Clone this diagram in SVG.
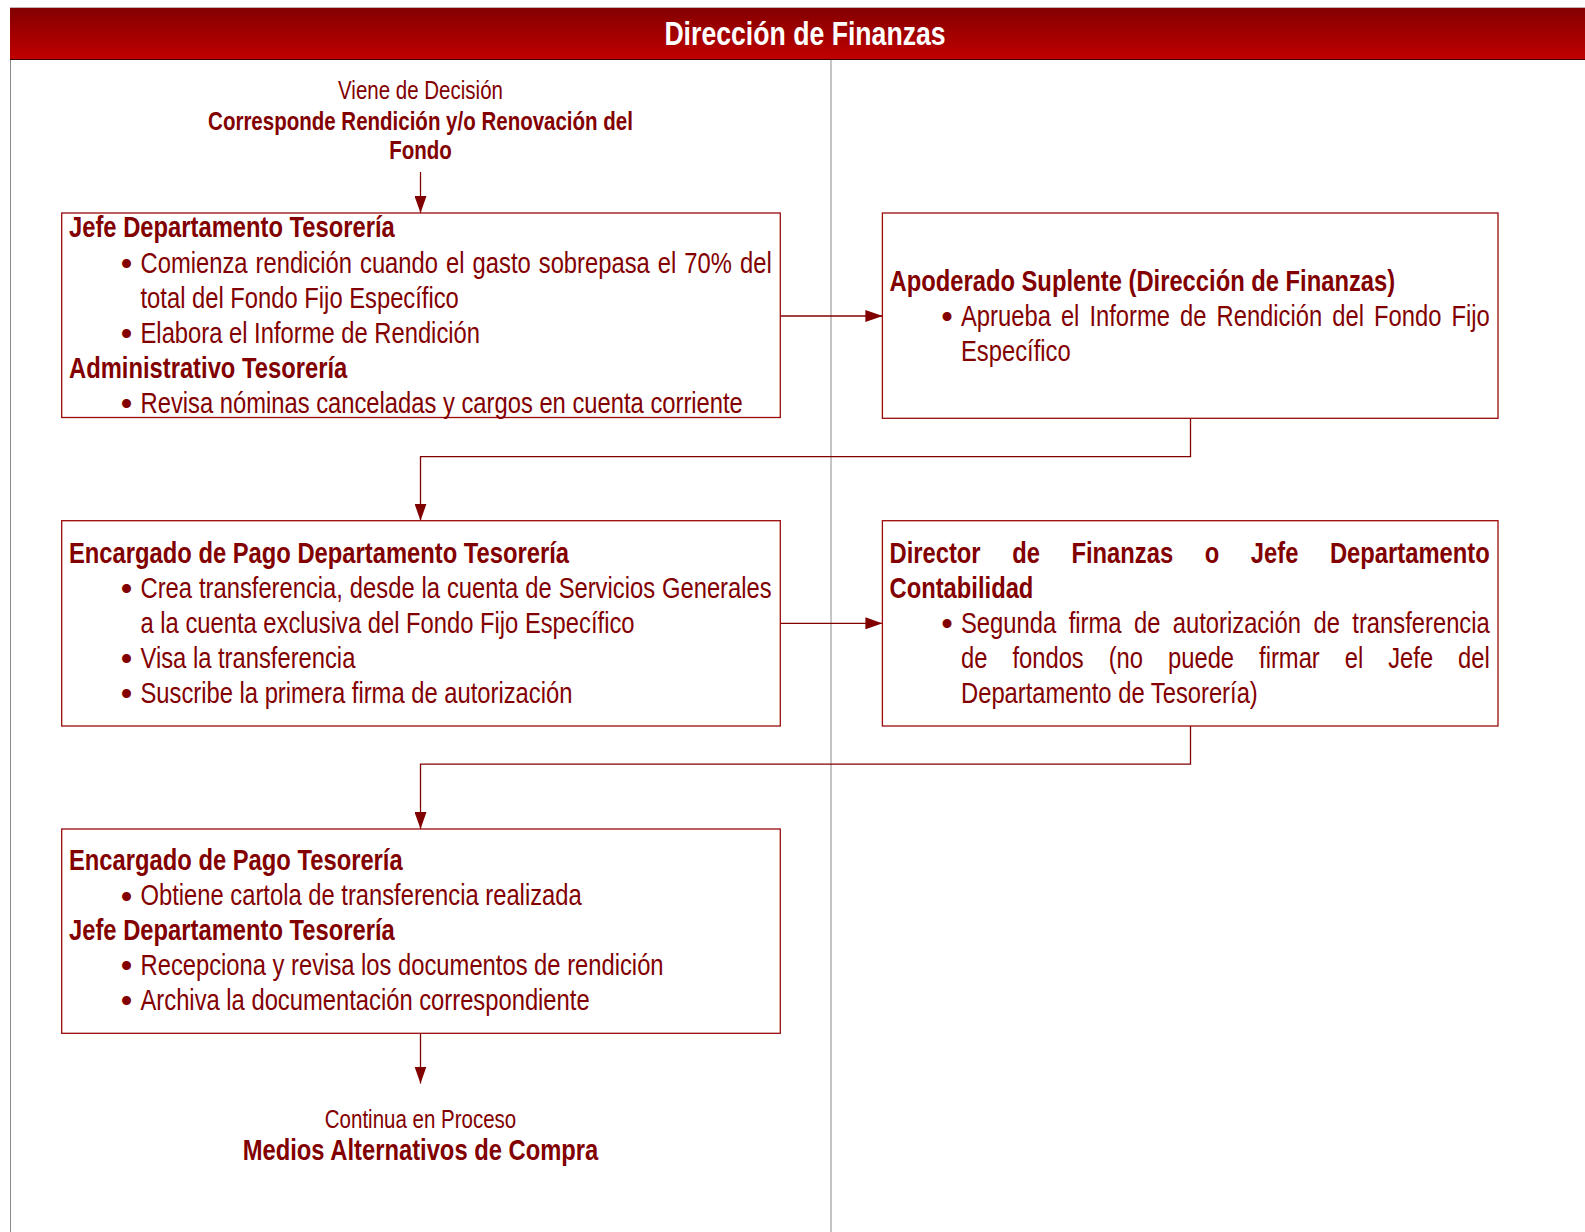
<svg xmlns="http://www.w3.org/2000/svg" width="1585" height="1232" viewBox="0 0 1585 1232">
  <defs>
    <linearGradient id="hdrGrad" x1="0" y1="0" x2="0" y2="1">
      <stop offset="0" stop-color="#820000"/>
      <stop offset="1" stop-color="#c20000"/>
    </linearGradient>
    <marker id="arr" markerUnits="userSpaceOnUse" markerWidth="17" markerHeight="12" refX="17" refY="6" orient="auto">
      <path d="M0,0 L17,6 L0,12 z" fill="#800000"/>
    </marker>
    <style>
      /* condensed sans: Liberation Sans squeezed to 82% width via each text's matrix */
      .t { font-family: "Liberation Sans", Arial, sans-serif; font-size: 29px; fill: #820000; }
      .b { font-weight: bold; }
      .s { font-size: 25px; }
      .c { text-anchor: middle; }
      .hd { font-family: "Liberation Sans", Arial, sans-serif; font-size: 32.5px; font-weight: bold; fill: #ffffff; text-anchor: middle; }
      .bul { font-family: "Liberation Sans", sans-serif; font-size: 33px; fill: #820000; text-anchor: middle; }
      .box { fill: #ffffff; stroke: #9c0a0a; stroke-width: 1.3; }
      .conn { fill: none; stroke: #800000; stroke-width: 1.3; marker-end: url(#arr); }
      .lane { stroke: #8a8a8a; stroke-width: 1; }
    </style>
  </defs>

  <rect x="0" y="0" width="1585" height="1232" fill="#ffffff"/>

  <!-- swimlane header and lane borders -->
  <g id="lane-header">
    <rect x="10" y="7" width="1575" height="53" fill="url(#hdrGrad)"/>
    <line x1="10" y1="7.5" x2="1585" y2="7.5" stroke="#c9b4b4" stroke-width="1"/>
    <line x1="10" y1="59.5" x2="1585" y2="59.5" stroke="#3a0000" stroke-width="1"/>
    <text transform="matrix(0.82 0 0 1 805 44.5)" class="hd">Dirección de Finanzas</text>
    <line class="lane" x1="10.5" y1="60" x2="10.5" y2="1232"/>
    <line class="lane" x1="831" y1="60" x2="831" y2="1232"/>
  </g>

  <!-- connectors -->
  <g id="connectors">
    <path class="conn" d="M420.5,172 V213"/>
    <path class="conn" d="M780.3,316 H882.4"/>
    <path class="conn" d="M1190.5,418.3 V456.7 H420.5 V520.7"/>
    <path class="conn" d="M780.3,623.3 H882.4"/>
    <path class="conn" d="M1190.5,726 V764.2 H420.5 V829"/>
    <path class="conn" d="M420.5,1033.3 V1083.5"/>
  </g>

  <!-- incoming reference -->
  <g id="start">
    <text transform="matrix(0.82 0 0 1 420.5 98.8)" class="t s c">Viene de Decisión</text>
    <text transform="matrix(0.82 0 0 1 420.5 129.8)" class="t s b c">Corresponde Rendición y/o Renovación del</text>
    <text transform="matrix(0.82 0 0 1 420.5 159)" class="t s b c">Fondo</text>
  </g>

  <!-- treasury: report preparation -->
  <g id="n1">
    <rect class="box" x="61.7" y="213" width="718.6" height="204.5"/>
    <text transform="matrix(0.82 0 0 1 69 237)" class="t b">Jefe Departamento Tesorería</text>
    <text x="126.5" y="275" class="bul">•</text>
    <text transform="matrix(0.82 0 0 1 140.5 272.5)" class="t" word-spacing="1.77">Comienza rendición cuando el gasto sobrepasa el 70% del</text>
    <text transform="matrix(0.82 0 0 1 140.5 307.5)" class="t">total del Fondo Fijo Específico</text>
    <text x="126.5" y="345" class="bul">•</text>
    <text transform="matrix(0.82 0 0 1 140.5 342.5)" class="t">Elabora el Informe de Rendición</text>
    <text transform="matrix(0.82 0 0 1 69 377.5)" class="t b">Administrativo Tesorería</text>
    <text x="126.5" y="415" class="bul">•</text>
    <text transform="matrix(0.82 0 0 1 140.5 412.5)" class="t">Revisa nóminas canceladas y cargos en cuenta corriente</text>
  </g>

  <!-- approval -->
  <g id="n2">
    <rect class="box" x="882.4" y="213" width="615.6" height="205.3"/>
    <text transform="matrix(0.82 0 0 1 889.5 290.5)" class="t b">Apoderado Suplente (Dirección de Finanzas)</text>
    <text x="947" y="328" class="bul">•</text>
    <text transform="matrix(0.82 0 0 1 961 325.5)" class="t" word-spacing="4.2">Aprueba el Informe de Rendición del Fondo Fijo</text>
    <text transform="matrix(0.82 0 0 1 961 360.5)" class="t">Específico</text>
  </g>

  <!-- transfer creation -->
  <g id="n3">
    <rect class="box" x="61.7" y="520.7" width="718.6" height="205.3"/>
    <text transform="matrix(0.82 0 0 1 69 562.5)" class="t b">Encargado de Pago Departamento Tesorería</text>
    <text x="126.5" y="600" class="bul">•</text>
    <text transform="matrix(0.82 0 0 1 140.5 597.5)" class="t" word-spacing="0.41">Crea transferencia, desde la cuenta de Servicios Generales</text>
    <text transform="matrix(0.82 0 0 1 140.5 632.5)" class="t">a la cuenta exclusiva del Fondo Fijo Específico</text>
    <text x="126.5" y="670" class="bul">•</text>
    <text transform="matrix(0.82 0 0 1 140.5 667.5)" class="t">Visa la transferencia</text>
    <text x="126.5" y="705" class="bul">•</text>
    <text transform="matrix(0.82 0 0 1 140.5 702.5)" class="t">Suscribe la primera firma de autorización</text>
  </g>

  <!-- second signature -->
  <g id="n4">
    <rect class="box" x="882.4" y="520.7" width="615.6" height="205.3"/>
    <text transform="matrix(0.82 0 0 1 889.5 562.5)" class="t b" word-spacing="30.44">Director de Finanzas o Jefe Departamento</text>
    <text transform="matrix(0.82 0 0 1 889.5 597.5)" class="t b">Contabilidad</text>
    <text x="947" y="635" class="bul">•</text>
    <text transform="matrix(0.82 0 0 1 961 632.5)" class="t" word-spacing="7.17">Segunda firma de autorización de transferencia</text>
    <text transform="matrix(0.82 0 0 1 961 667.5)" class="t" word-spacing="22.39">de fondos (no puede firmar el Jefe del</text>
    <text transform="matrix(0.82 0 0 1 961 702.5)" class="t">Departamento de Tesorería)</text>
  </g>

  <!-- closing and filing -->
  <g id="n5">
    <rect class="box" x="61.7" y="829" width="718.6" height="204.3"/>
    <text transform="matrix(0.82 0 0 1 69 870)" class="t b">Encargado de Pago Tesorería</text>
    <text x="126.5" y="907.5" class="bul">•</text>
    <text transform="matrix(0.82 0 0 1 140.5 905)" class="t">Obtiene cartola de transferencia realizada</text>
    <text transform="matrix(0.82 0 0 1 69 939.5)" class="t b">Jefe Departamento Tesorería</text>
    <text x="126.5" y="977" class="bul">•</text>
    <text transform="matrix(0.82 0 0 1 140.5 974.5)" class="t">Recepciona y revisa los documentos de rendición</text>
    <text x="126.5" y="1012" class="bul">•</text>
    <text transform="matrix(0.82 0 0 1 140.5 1009.5)" class="t">Archiva la documentación correspondiente</text>
  </g>

  <!-- outgoing reference -->
  <g id="end">
    <text transform="matrix(0.82 0 0 1 420.5 1127.5)" class="t s c">Continua en Proceso</text>
    <text transform="matrix(0.82 0 0 1 420.5 1160)" class="t b c">Medios Alternativos de Compra</text>
  </g>
</svg>
